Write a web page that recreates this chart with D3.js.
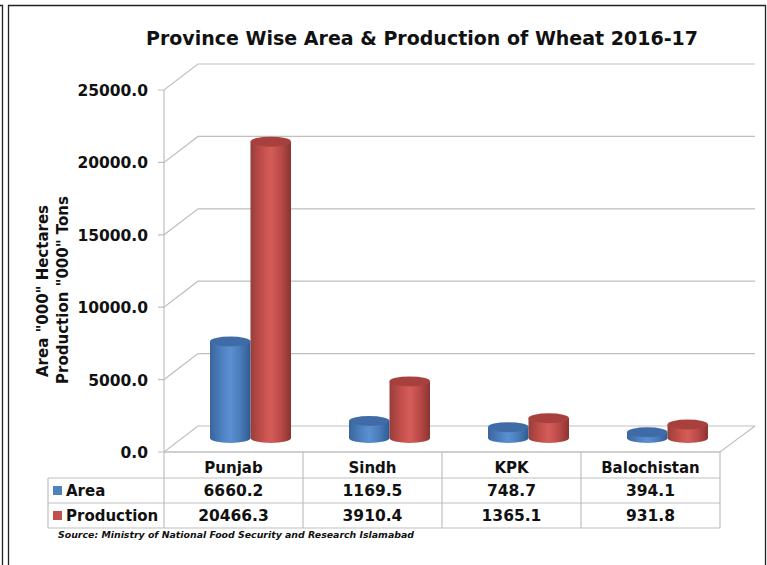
<!DOCTYPE html>
<html>
<head>
<meta charset="utf-8">
<script src="https://cdn.jsdelivr.net/npm/d3@7"></script>
<style>
  html, body { margin: 0; padding: 0; background: #fff; }
  svg { display: block; }
  text { font-family: "DejaVu Sans", sans-serif; font-weight: bold; fill: #111; }
</style>
</head>
<body>
<svg id="chart" width="767" height="565"></svg>
<script>
const provinces = ["Punjab", "Sindh", "KPK", "Balochistan"];
const seriesNames = ["Area", "Production"];
const areaValues = [6660.2, 1169.5, 748.7, 394.1];
const productionValues = [20466.3, 3910.4, 1365.1, 931.8];
const yTicks = [0, 5000, 10000, 15000, 20000, 25000];
const seriesColors = ["#4f81bd", "#c0504d"];

const svg = d3.select("#chart");
const gridColor = "#bfbfbf";

// depth of the fake 3d floor
const depthX = 34, depthY = 26;

const x = d3.scaleBand().domain(provinces).range([164, 720]);
const y = d3.scaleLinear().domain([0, 25000]).range([452, 90]);
const inner = d3.scaleBand().domain(seriesNames).range([46, 127]);

// page frame, open at the bottom
svg.append("path").attr("d", "M8.5,565V5.5H765.5V565").attr("fill", "none").attr("stroke", "#222").attr("stroke-width", 1.3);
svg.append("path").attr("d", "M0,5.5H2.5V565").attr("fill", "none").attr("stroke", "#222").attr("stroke-width", 1.3);

svg.append("text").attr("x", 422).attr("y", 45).attr("text-anchor", "middle")
  .attr("font-size", 19).text("Province Wise Area & Production of Wheat 2016-17");

// walls and gridlines
const grid = svg.append("g").attr("fill", "none").attr("stroke", gridColor).attr("stroke-width", 1.2);
yTicks.forEach(t => {
  const p = d3.path();
  p.moveTo(158, y(t));
  p.lineTo(164, y(t));
  p.lineTo(164 + depthX, y(t) - depthY);
  p.lineTo(755, y(t) - depthY);
  grid.append("path").attr("d", p.toString());
});
grid.append("line").attr("x1", 164).attr("x2", 164).attr("y1", y(25000)).attr("y2", y(0));
grid.append("path").attr("d", `M164,${y(0)}H720L755,${y(0) - depthY}`);

svg.append("g").selectAll("text").data(yTicks).join("text")
  .attr("x", 148).attr("y", d => y(d) + 6).attr("text-anchor", "end")
  .attr("font-size", 15.5).text(d => d3.format(".1f")(d));

svg.append("text").attr("transform", "translate(48,291) rotate(-90)").attr("text-anchor", "middle")
  .attr("font-size", 15).text('Area "000" Hectares');
svg.append("text").attr("transform", "translate(68,290) rotate(-90)").attr("text-anchor", "middle")
  .attr("font-size", 15).text('Production "000" Tons');

// shading across the cylinder body
const defs = svg.append("defs");
const shades = [["#3a659c", "#4a7dbc", "#5b90d2", "#4a7bb8", "#2f5b94"], ["#963f3c", "#bf4c48", "#d55d59", "#b94a47", "#8a3431"]];
shades.forEach((stops, i) => {
  const g = defs.append("linearGradient").attr("id", "body" + i);
  stops.forEach((c, k) => g.append("stop").attr("offset", k / (stops.length - 1)).attr("stop-color", c));
});
const topColors = ["#3f6ca6", "#a8413e"];

// cylinders, the base sits 14px back from the front edge of the floor
const baseShift = 14, ry = 5;
[areaValues, productionValues].forEach((values, s) => {
  const g = svg.append("g");
  provinces.forEach((p, i) => {
    const left = x(p) + inner(seriesNames[s]);
    const w = inner.bandwidth();
    const cx = left + w / 2;
    const rx = w / 2;
    const yBase = y(0) - baseShift;
    const yTop = y(values[i]) - baseShift;
    g.append("path")
      .attr("d", `M${left},${yTop}V${yBase}A${rx},${ry} 0 0 0 ${left + w},${yBase}V${yTop}Z`)
      .attr("fill", `url(#body${s})`);
    g.append("ellipse").attr("cx", cx).attr("cy", yTop).attr("rx", rx).attr("ry", ry)
      .attr("fill", topColors[s]);
  });
});

// data table
const rowY = [452, 478, 503, 528];
const tableLeft = 48;
const table = svg.append("g").attr("stroke", gridColor).attr("stroke-width", 1.2);
rowY.forEach((r, i) => {
  table.append("line").attr("x1", i === 0 ? 164 : tableLeft).attr("x2", 720).attr("y1", r).attr("y2", r);
});
x.domain().concat(["end"]).forEach((p, i) => {
  const xx = 164 + i * x.bandwidth();
  table.append("line").attr("x1", xx).attr("x2", xx).attr("y1", 452).attr("y2", 528);
});
table.append("line").attr("x1", tableLeft).attr("x2", tableLeft).attr("y1", 478).attr("y2", 528);

svg.append("g").selectAll("text").data(provinces).join("text")
  .attr("x", d => x(d) + x.bandwidth() / 2).attr("y", 473).attr("text-anchor", "middle")
  .attr("font-size", 15).text(d => d);

[areaValues, productionValues].forEach((values, s) => {
  const rowMid = (rowY[s + 1] + rowY[s + 2]) / 2;
  svg.append("rect").attr("x", 53).attr("y", rowMid - 4.5).attr("width", 9).attr("height", 9)
    .attr("fill", seriesColors[s]);
  svg.append("text").attr("x", 66).attr("y", rowMid + 5.5).attr("font-size", 15).text(seriesNames[s]);
  svg.append("g").selectAll("text").data(values).join("text")
    .attr("x", (d, i) => x(provinces[i]) + x.bandwidth() / 2).attr("y", rowMid + 5.5)
    .attr("text-anchor", "middle").attr("font-size", 15.5).text(d => d3.format(".1f")(d));
});

svg.append("text").attr("x", 58).attr("y", 538).attr("font-size", 9.4).attr("font-style", "italic")
  .text("Source: Ministry of National Food Security and Research Islamabad");
</script>
</body>
</html>
